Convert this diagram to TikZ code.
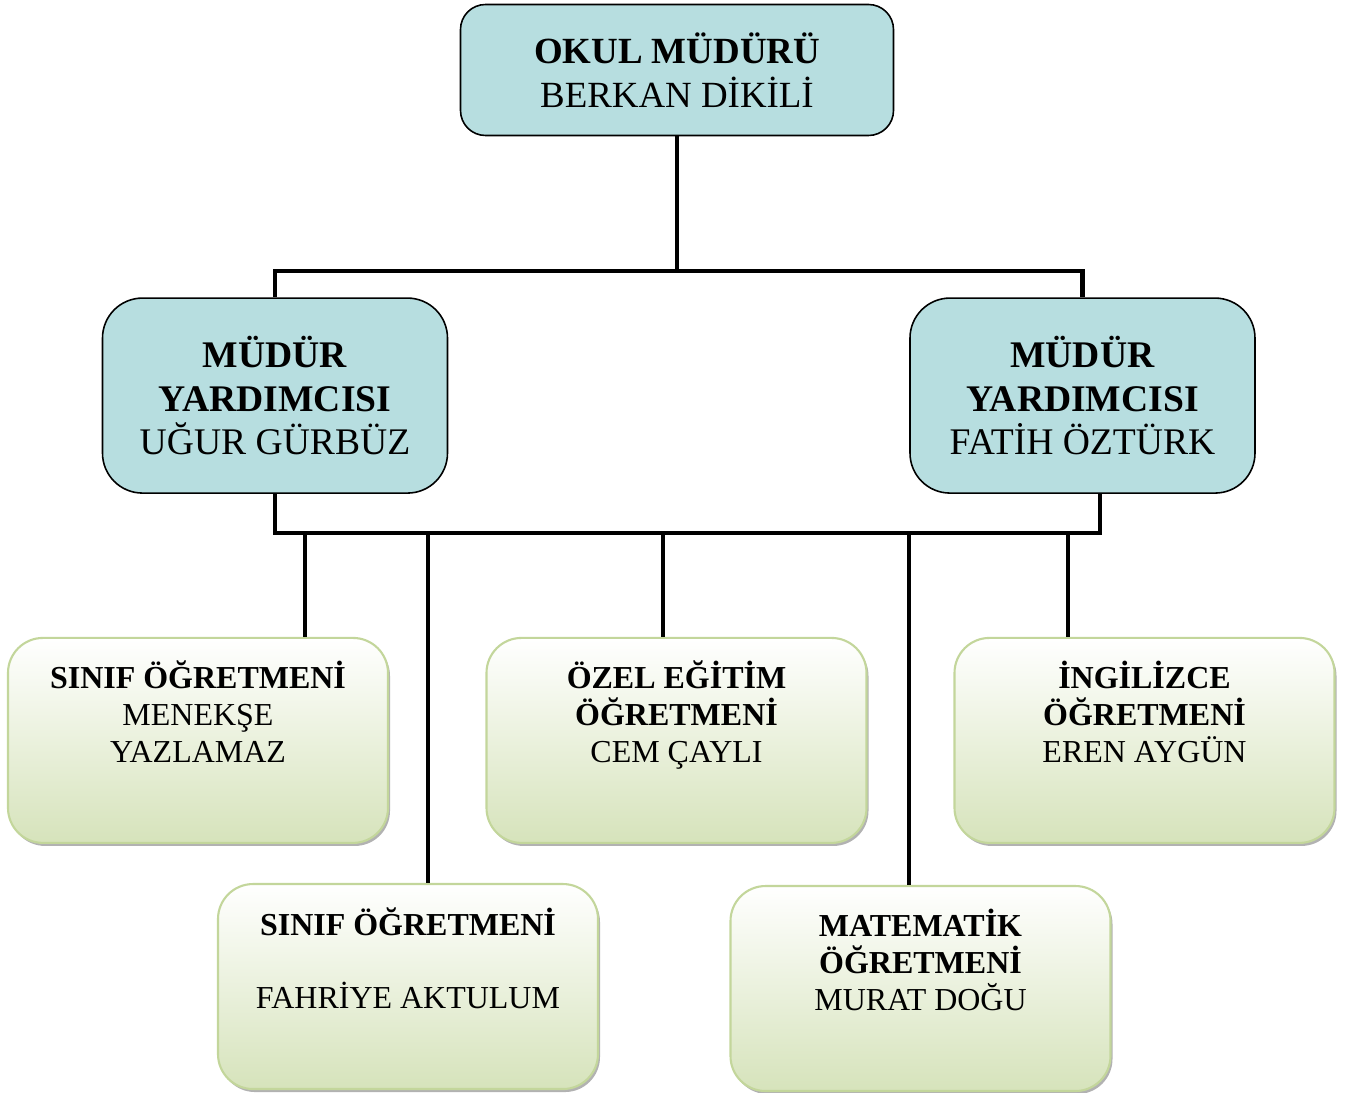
\documentclass[tikz,border=0pt]{standalone}
\usepackage{fontspec}
\setmainfont{Liberation Serif}
\usetikzlibrary{positioning,shadows}

\definecolor{bluefill}{RGB}{183,222,224}
\definecolor{greenfill}{RGB}{214,227,187}
\definecolor{greenline}{RGB}{195,214,155}

\tikzset{
	headbox/.style={draw=black, line width=0.9pt, fill=bluefill, rounded corners=0.5cm,
		minimum width=8.66cm, minimum height=2.62cm, align=center,
		font=\fontsize{21}{25}\selectfont},
	deputybox/.style={headbox, rounded corners=0.8cm, minimum width=6.9cm, minimum height=3.9cm,
		font=\fontsize{21.4}{25}\selectfont},
	teacherbox/.style={draw=greenline, line width=1.2pt, top color=white, bottom color=greenfill,
		rounded corners=0.7cm, minimum width=7.6cm, minimum height=4.1cm,
		drop shadow={shadow xshift=0.04cm, shadow yshift=-0.06cm, fill=black, opacity=0.3}},
	teachertext/.style={align=center, inner sep=0pt, font=\fontsize{18.2}{21}\selectfont},
	conn/.style={line width=2.6pt}
}

\begin{document}
\begin{tikzpicture}
	\useasboundingbox (0,0) rectangle (27.04,-21.86);

	\node[headbox] (mudur) at (13.54,-1.40) {\textbf{OKUL MÜDÜRÜ}\\BERKAN DİKİLİ};
	\node[deputybox, below=3.22cm of mudur, xshift=-8.04cm] (yard1) {\textbf{MÜDÜR}\\\textbf{YARDIMCISI}\\UĞUR GÜRBÜZ};
	\node[deputybox, below=3.22cm of mudur, xshift=8.11cm] (yard2) {\textbf{MÜDÜR}\\\textbf{YARDIMCISI}\\FATİH ÖZTÜRK};

	\node[teacherbox, below=2.86cm of yard1, xshift=-1.54cm] (ogr1) {};
	\node[teacherbox, below=2.86cm of yard1, xshift=8.03cm] (ogr2) {};
	\node[teacherbox, below=2.86cm of yard2, xshift=1.24cm] (ogr3) {};
	\node[teacherbox, below=0.78cm of ogr1, xshift=4.20cm] (ogr4) {};
	\node[teacherbox, below=0.82cm of ogr2, xshift=4.88cm] (ogr5) {};

	\node[teachertext, below=0.48cm of ogr1.north] (ogr1txt) {\textbf{SINIF ÖĞRETMENİ}\\MENEKŞE\\YAZLAMAZ};
	\node[teachertext, below=0.48cm of ogr2.north] (ogr2txt) {\textbf{ÖZEL EĞİTİM}\\\textbf{ÖĞRETMENİ}\\CEM ÇAYLI};
	\node[teachertext, below=0.48cm of ogr3.north] (ogr3txt) {\textbf{İNGİLİZCE}\\\textbf{ÖĞRETMENİ}\\EREN AYGÜN};
	\node[teachertext, below=0.48cm of ogr4.north] (ogr4txt) {\textbf{SINIF ÖĞRETMENİ}\\[21pt]FAHRİYE AKTULUM};
	\node[teachertext, below=0.48cm of ogr5.north] (ogr5txt) {\textbf{MATEMATİK}\\\textbf{ÖĞRETMENİ}\\MURAT DOĞU};

	% bus lines
	\coordinate (bus1) at (0,-5.42);
	\coordinate (bus2) at (0,-10.66);
	\draw[conn] (mudur.south) -- (mudur.south |- bus1) -| (yard1.north);
	\draw[conn] (mudur.south |- bus1) -| (yard2.north);
	\coordinate (yard2in) at ([xshift=0.35cm]yard2.south);
	\draw[conn] (yard1.south) -- (yard1.south |- bus2) -| (yard2in);

	% drops to the teachers
	\coordinate (ogr1in) at ([xshift=2.14cm]ogr1.north);
	\coordinate (ogr2in) at ([xshift=-0.27cm]ogr2.north);
	\coordinate (ogr3in) at ([xshift=-1.53cm]ogr3.north);
	\coordinate (ogr4in) at ([xshift=0.40cm]ogr4.north);
	\coordinate (ogr5in) at ([xshift=-0.23cm]ogr5.north);
	\foreach \t in {ogr1in,ogr2in,ogr3in,ogr4in,ogr5in}
		\draw[conn] (\t |- bus2) -- (\t);
\end{tikzpicture}
\end{document}
